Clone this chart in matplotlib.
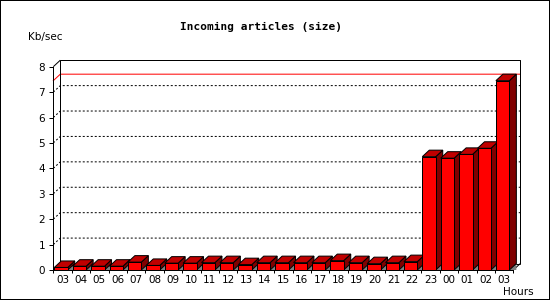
"""Incoming articles (size) - hourly 3D bar chart."""
import matplotlib
matplotlib.use("Agg")
import matplotlib.pyplot as plt
from matplotlib.patches import Polygon

hours = ["03", "04", "05", "06", "07", "08", "09", "10", "11", "12", "13",
         "14", "15", "16", "17", "18", "19", "20", "21", "22", "23", "00",
         "01", "02", "03"]
kb_sec = [0.10, 0.15, 0.15, 0.15, 0.31, 0.18, 0.27, 0.27, 0.29, 0.29, 0.21,
          0.29, 0.29, 0.29, 0.29, 0.37, 0.29, 0.25, 0.29, 0.33, 4.46, 4.40,
          4.55, 4.79, 7.45]
y_ticks = list(range(9))

PX = 0.72  # one pixel in points at dpi 100


def main():
    n = len(hours)
    fig = plt.figure(figsize=(5.5, 3), dpi=100)
    fig.patch.set_facecolor("white")
    fig.patch.set_edgecolor("black")
    fig.patch.set_linewidth(2 * PX)

    ax_w, ax_h = 460, 203.3
    ax = fig.add_axes([53.3 / 550, 30 / 300, ax_w / 550, ax_h / 300])
    ax.set_xlim(0, n)
    ax.set_ylim(0, 8)
    ax.patch.set_visible(False)

    # depth of the fake 3D, in data units
    dx = 7 * n / ax_w
    dy = 6.5 * 8 / ax_h

    for s in ("top", "right"):
        ax.spines[s].set_visible(False)
    for s in ("left", "bottom"):
        ax.spines[s].set_linewidth(PX)
        ax.spines[s].set_color("black")

    k = dict(color="black", lw=PX, clip_on=False, solid_capstyle="butt")
    # back wall and side edges
    ax.plot([dx, dx, n + dx, n + dx], [dy, 8 + dy, 8 + dy, dy], **k)
    ax.plot([0, dx], [8, 8 + dy], **k)
    ax.plot([0, dx], [0, dy], **k)
    ax.plot([n, n + dx], [0, dy], **k)
    ax.plot([dx, n + dx], [dy, dy], **k)

    for v in y_ticks[1:-1]:
        ax.plot([0, dx, n + dx], [v, v + dy, v + dy], color="black", lw=PX,
                ls=(0, (2, 2)), clip_on=False, zorder=1)

    m = max(kb_sec)
    ax.plot([0, dx, n + dx], [m, m + dy, m + dy], color="#ff0000", lw=PX,
            clip_on=False, zorder=1)

    off, w = 0.055, 0.73
    for i, v in enumerate(kb_sec):
        x0 = i + off
        x1 = x0 + w
        z = 3 + i * 0.01
        shadow = [(x1, 0), (x1 + dx, dy), (x1 + dx, 0)]
        side = [(x1, 0), (x1 + dx, dy), (x1 + dx, v + dy), (x1, v)]
        top = [(x0, v), (x1, v), (x1 + dx, v + dy), (x0 + dx, v + dy)]
        front = [(x0, 0), (x1, 0), (x1, v), (x0, v)]
        ax.add_patch(Polygon(shadow, closed=True, fc="#808080", ec="none",
                             clip_on=False, zorder=z))
        for pts, col in ((side, "#800000"), (top, "#c00000"),
                         (front, "#ff0000")):
            ax.add_patch(Polygon(pts, closed=True, fc=col, ec="black",
                                 lw=PX, clip_on=False, zorder=z,
                                 joinstyle="miter"))

    ax.set_yticks(y_ticks)
    ax.set_yticklabels([str(t) for t in y_ticks])
    ax.tick_params(axis="y", direction="out", length=4 * PX, width=PX,
                   labelsize=7.5, pad=3)
    ax.set_xticks(range(n + 1))
    ax.set_xticklabels([])
    ax.tick_params(axis="x", which="major", direction="out", length=3 * PX,
                   width=PX)
    ax.set_xticks([i + 0.5 for i in range(n)], minor=True)
    ax.set_xticklabels(hours, minor=True)
    ax.tick_params(axis="x", which="minor", length=0, labelsize=7.5, pad=3.5)

    fig.text(260.5 / 550, 1 - 27 / 300, "Incoming articles (size)",
             family="DejaVu Sans Mono", weight="bold", fontsize=8,
             ha="center", va="center")
    fig.text(28 / 550, 1 - 36.7 / 300, "Kb/sec", fontsize=7.5,
             ha="left", va="center")
    fig.text(534 / 550, 1 - 292 / 300, "Hours", fontsize=7.5,
             ha="right", va="center")

    fig.savefig("out.png", dpi=100)


if __name__ == "__main__":
    main()
